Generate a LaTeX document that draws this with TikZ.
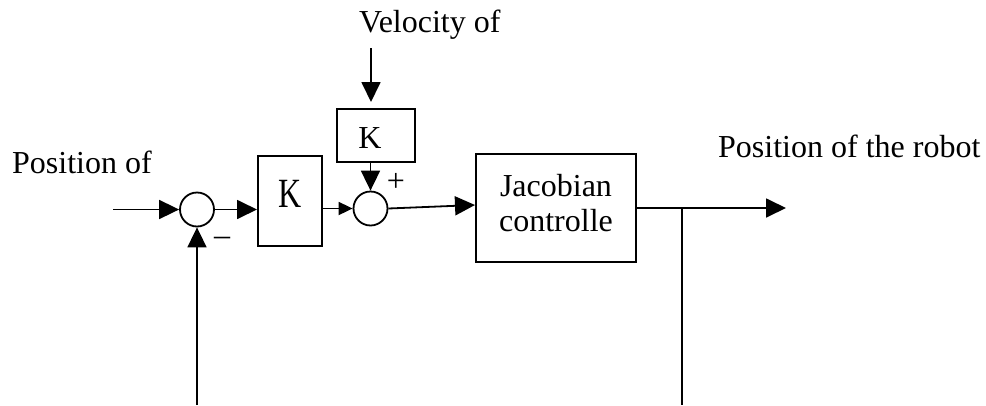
\documentclass[tikz,border=0pt]{standalone}
\usepackage{fontspec}
\setmainfont{Liberation Serif}
\usepackage{graphicx}
\usetikzlibrary{arrows.meta}
\begin{document}
\begin{tikzpicture}[x=1pt,y=-1pt,
  every node/.style={font=\fontsize{32}{35}\selectfont},
  ln/.style={line width=1.8pt},
  arr/.style={ln,-{Triangle[length=20pt,width=19pt]}},
  sarr/.style={ln,-{Triangle[length=14pt,width=13pt]}},
  blk/.style={draw,line width=2pt,rectangle,inner sep=0pt},
  sumj/.style={draw,line width=1.8pt,circle,minimum size=34pt,inner sep=0pt},
  lbl/.style={anchor=base west,inner sep=0pt},
]
\useasboundingbox (0,0) rectangle (986,405);
% blocks
\node[sumj] (s1) at (197,209.5) {};
\node[blk,minimum width=64pt,minimum height=90pt,text height=27pt,text depth=15pt] (k1) at (290,201) {\scalebox{1}[1.3]{K}};
\node[blk,minimum width=78pt,minimum height=53pt,text height=30pt,text depth=5pt] (k2) at (376,135.5) {K\hspace*{12pt}};
\node[sumj] (s2) at (370.5,208.5) {};
\node[blk,minimum width=160pt,minimum height=108pt] (jac) at (556,208) {\raisebox{-5.5pt}[0pt][0pt]{\begin{tabular}{@{}c@{}}Jacobian\\controlle\end{tabular}}};
% labels
\node[lbl] (tin) at (12,173) {Position of};
\node[lbl] (tout) at (718,157) {Position of the robot};
\node[lbl] (tvel) at (359,32) {Velocity of};
\node[anchor=base,inner sep=0pt] (minus) at (222,245) {–};
\node[anchor=base,inner sep=0pt] (plus) at (396,191) {+};
% coordinates
\coordinate (in) at (113,209.5);
\coordinate (fb) at (197,405);
\coordinate (vtop) at (371,48);
\coordinate (vend) at (371,102);
\coordinate (out) at (786,208);
\coordinate (br) at (682,208);
\coordinate (brb) at (682,405);
% connectors
\draw[arr] (in) -- (s1.west);
\draw[arr] (fb) -- (s1.south);
\draw[arr] (s1.east) -- (s1.east -| k1.west);
\draw[sarr] (k1.east |- s2.west) -- (s2.west);
\draw[arr] (vtop) -- (vend);
\draw[arr] (k2.south -| s2.north) -- (s2.north);
\draw[arr] (s2.east) -- ([yshift=3pt]jac.west);
\draw[arr] (jac.east) -- (out);
\draw[ln] (br) -- (brb);
\end{tikzpicture}
\end{document}
